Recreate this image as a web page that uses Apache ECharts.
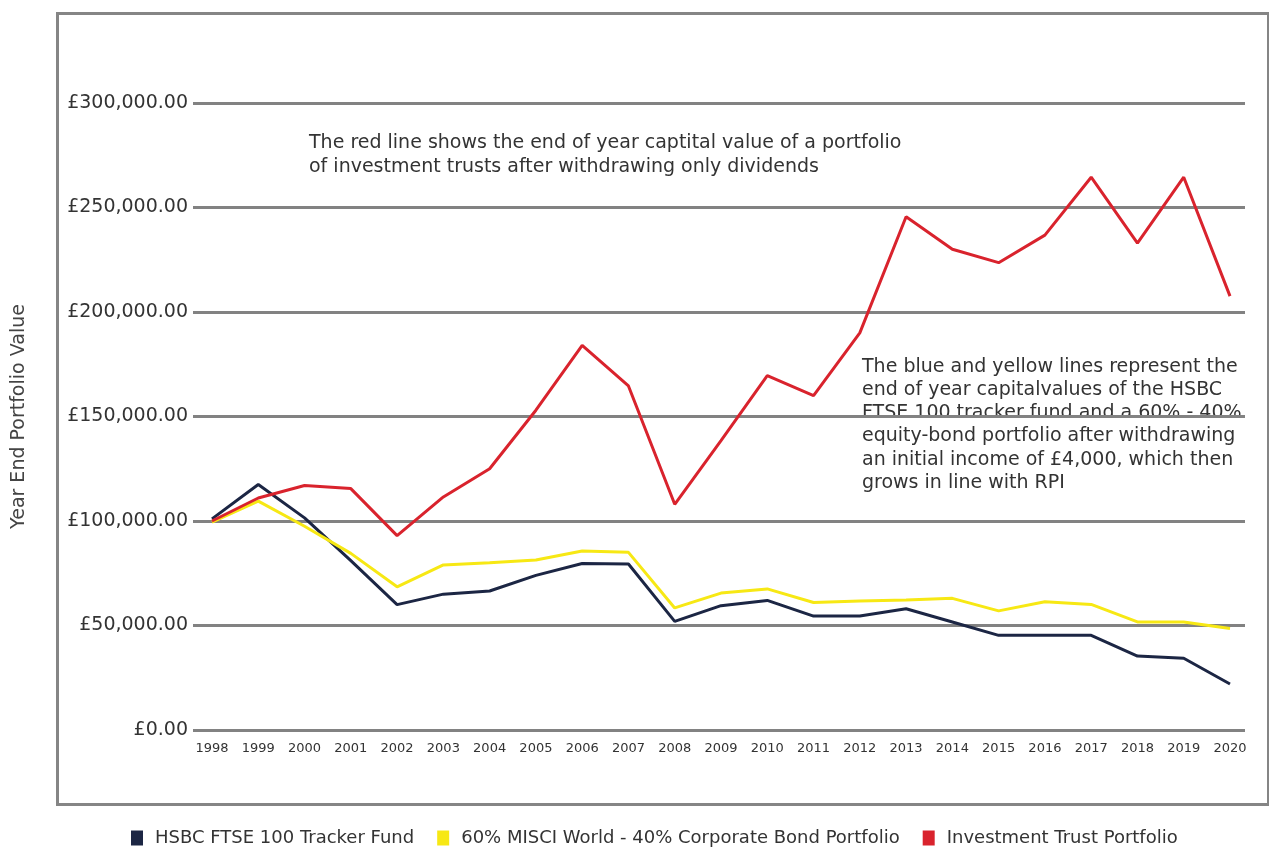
<!DOCTYPE html>
<html>
<head>
<meta charset="utf-8">
<script src="https://cdn.jsdelivr.net/npm/echarts@6/dist/echarts.min.js"></script>
<style>
html,body{margin:0;padding:0;background:#fff;}
#chart{width:1269px;height:847px;}
</style>
</head>
<body>
<div id="chart"></div>
<script>
const years = ['1998','1999','2000','2001','2002','2003','2004','2005','2006','2007','2008','2009','2010','2011','2012','2013','2014','2015','2016','2017','2018','2019','2020'];
const hsbcTracker = [101000,117500,101500,81000,60000,65000,66500,74000,79700,79400,52000,59500,62000,54500,54500,58000,51700,45300,45300,45300,35400,34300,22000];
const msciBond = [99500,109500,97500,84500,68500,79000,80000,81300,85600,85000,58400,65500,67500,61000,61700,62200,63000,57000,61400,60100,51700,51700,48600];
const investTrust = [100000,111000,117000,115500,93000,111500,125000,153000,184000,164600,108000,138500,169500,160000,190000,245600,230000,223600,236800,264500,233000,264500,207600];
const seriesNames = ['HSBC FTSE 100 Tracker Fund','60% MISCI World - 40% Corporate Bond Portfolio','Investment Trust Portfolio'];
const seriesColors = ['#1c2644','#f7e814','#d9232d'];
const yTicks = {min:0, max:300000, interval:50000};
const yTitle = 'Year End Portfolio Value';
const note1 = ['The red line shows the end of year captital value of a portfolio','of investment trusts after withdrawing only dividends'];
const note2 = ['The blue and yellow lines represent the','end of year capitalvalues of the HSBC','FTSE 100 tracker fund and a 60% - 40%','equity-bond portfolio after withdrawing','an initial income of £4,000, which then','grows in line with RPI'];

function fmtGBP(v){
  const s = Math.round(v).toString().replace(/\B(?=(\d{3})+(?!\d))/g, ',');
  return '£' + s + '.00';
}

const FONT = 'DejaVu Sans';
const chart = echarts.init(document.getElementById('chart'));
const seriesData = [hsbcTracker, msciBond, investTrust];

chart.setOption({
  backgroundColor:'#ffffff',
  animation:false,
  textStyle:{fontFamily:FONT},
  grid:[
    {left:193, right:24, top:103, bottom:117},
    {left:212, right:39, top:103, bottom:117}
  ],
  xAxis:[
    {type:'value', gridIndex:0, show:false, min:0, max:1},
    {type:'category', gridIndex:1, data:years, boundaryGap:false,
     axisLine:{show:false}, axisTick:{show:false},
     axisLabel:{color:'#333', fontSize:13, margin:12, interval:0, fontFamily:FONT},
     splitLine:{show:false}}
  ],
  yAxis:[
    {type:'value', gridIndex:0, min:yTicks.min, max:yTicks.max, interval:yTicks.interval,
     axisLine:{show:false}, axisTick:{show:false},
     axisLabel:{color:'#333', fontSize:19, margin:5, formatter:fmtGBP, fontFamily:FONT},
     splitLine:{show:true, lineStyle:{color:'#828282', width:3}},
     name:yTitle, nameLocation:'middle', nameRotate:90, nameGap:164,
     nameTextStyle:{color:'#444', fontSize:19, fontFamily:FONT}},
    {type:'value', gridIndex:1, min:yTicks.min, max:yTicks.max, show:false}
  ],
  legend:{
    left:131, top:829, padding:0, icon:'rect', itemWidth:12, itemHeight:15, itemGap:23,
    textStyle:{color:'#333', fontSize:18, fontFamily:FONT, padding:[0,0,0,7]},
    data:seriesNames
  },
  graphic:[
    {type:'rect', left:55, top:11, shape:{width:1211, height:791}, silent:true,
     style:{fill:null, stroke:'#858585', lineWidth:3}},
    {type:'text', left:309, top:131, silent:true,
     style:{text:note1.join('\n'), fill:'#333', font:'19px "DejaVu Sans"', lineHeight:24}},
    {type:'text', left:862, top:355, silent:true,
     style:{text:note2.join('\n'), fill:'#333', font:'19px "DejaVu Sans"', lineHeight:23.3}}
  ],
  series: seriesNames.map((n,i)=>({
    name:n, type:'line', xAxisIndex:1, yAxisIndex:1,
    data:seriesData[i], symbol:'none', smooth:false,
    lineStyle:{color:seriesColors[i], width:3},
    itemStyle:{color:seriesColors[i]}
  }))
});
</script>
</body>
</html>
